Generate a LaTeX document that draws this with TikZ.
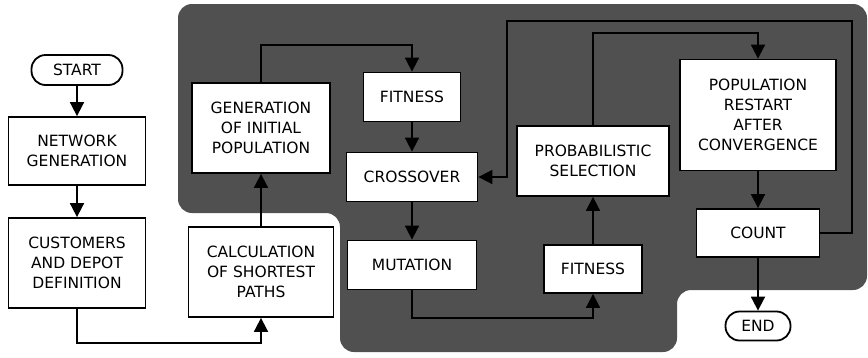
\documentclass[tikz,border=0pt]{standalone}
\usepackage{fontspec}
\setmainfont{DejaVu Sans}
\usetikzlibrary{arrows.meta}
\definecolor{bggray}{HTML}{505050}
\tikzset{
  box/.style={draw=black, line width=1.8pt, fill=white, align=center, inner sep=0pt, font=\fontsize{15.5}{20}\selectfont},
  term/.style={box, rounded corners=14pt},
  conn/.style={line width=1.8pt, -{Triangle[width=14pt,length=14pt]}},
}
\begin{document}
\begin{tikzpicture}[x=1pt,y=-1pt]
\useasboundingbox (0,0) rectangle (868,357);
\fill[bggray, rounded corners=14pt] (178,4) -- (867,4) -- (867,290) -- (677,290) -- (677,352) -- (340,352) -- (340,213) -- (178,213) -- cycle;

\node[term, minimum width=91pt, minimum height=30pt] (start) at (77,70) {START};
\node[box, minimum width=137pt, minimum height=68pt] (net) at (77,151) {NETWORK\\GENERATION};
\node[box, minimum width=137pt, minimum height=90pt] (cust) at (77,263) {CUSTOMERS\\AND DEPOT\\DEFINITION};
\node[box, minimum width=145pt, minimum height=90pt] (calc) at (261,272) {CALCULATION\\OF SHORTEST\\PATHS};
\node[box, minimum width=138pt, minimum height=90pt] (gen) at (261,128) {GENERATION\\OF INITIAL\\POPULATION};
\node[box, minimum width=97pt, minimum height=49pt] (fit1) at (412,97) {FITNESS};
\node[box, minimum width=131pt, minimum height=49pt] (cross) at (412,177) {CROSSOVER};
\node[box, minimum width=129pt, minimum height=49pt] (mut) at (412,265) {MUTATION};
\node[box, minimum width=152pt, minimum height=70pt] (prob) at (593,161) {PROBABILISTIC\\SELECTION};
\node[box, minimum width=98pt, minimum height=48pt] (fit2) at (593,269) {FITNESS};
\node[box, minimum width=156pt, minimum height=111pt] (restart) at (758,115) {POPULATION\\RESTART\\AFTER\\CONVERGENCE};
\node[box, minimum width=123pt, minimum height=48pt] (count) at (758,233) {COUNT};
\node[term, minimum width=65pt, minimum height=29pt] (end) at (758,326) {END};

\draw[conn] (start) -- (net);
\draw[conn] (net) -- (cust);
\draw[conn] (cust.south) |- (261,343) -- (calc.south);
\draw[conn] (calc) -- (gen);
\draw[conn] (gen.north) |- (412,45) -- (fit1.north);
\draw[conn] (fit1) -- (cross);
\draw[conn] (cross) -- (mut);
\draw[conn] (mut.south) |- (593,318) -- (fit2.south);
\draw[conn] (fit2) -- (prob);
\draw[conn] (prob.north) |- (758,33) -- (restart.north);
\draw[conn] (restart) -- (count);
\draw[conn] (count.east) -| (852,21) -| (507,177) -- (cross.east);
\draw[conn] (count) -- (end);
\end{tikzpicture}
\end{document}
